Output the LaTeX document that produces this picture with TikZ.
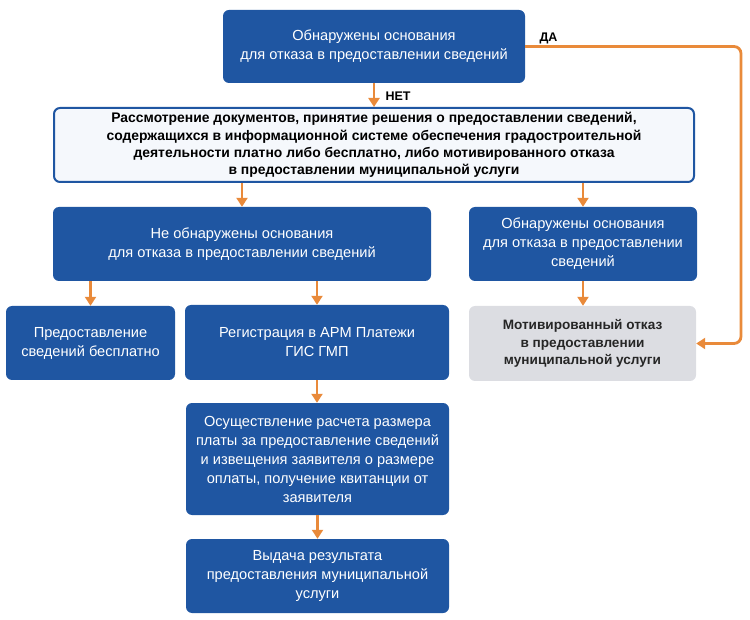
\documentclass[tikz,border=0pt]{standalone}
\usepackage{fontspec}
\setmainfont{Liberation Sans}
\usetikzlibrary{arrows.meta}

\definecolor{boxblue}{HTML}{1F56A2}
\definecolor{arrorange}{HTML}{E98A3A}
\definecolor{boxgray}{HTML}{DCDDE2}
\definecolor{paleblue}{HTML}{F5F8FC}

\tikzset{
  stepbase/.style={rounded corners=6pt, align=center, inner sep=0pt,
    font=\fontsize{14.6}{19}\selectfont},
  bluebox/.style={stepbase, fill=boxblue, text=white},
  graybox/.style={stepbase, fill=boxgray, text=black!85, font=\bfseries\fontsize{13.6}{17.8}\selectfont},
  mainbox/.style={stepbase, draw=boxblue, line width=2pt, fill=paleblue, text=black,
    font=\bfseries\fontsize{13.9}{17.4}\selectfont},
  arr/.style={draw=arrorange, line width=2.8pt, -{Triangle[width=11pt,length=9pt]}},
  answer/.style={font=\bfseries\fontsize{12.5}{14}\selectfont, text=black}
}

\begin{document}
\begin{tikzpicture}[x=1pt,y=-1pt]
\useasboundingbox (0,0) rectangle (750,620);

\node[bluebox, minimum width=302, minimum height=73] (found) at (374,46.5)
  {Обнаружены основания\\для отказа в предоставлении сведений};
\node[mainbox, minimum width=640, minimum height=74] (review) at (374,145)
  {Рассмотрение документов, принятие решения о предоставлении сведений,\\
   содержащихся в информационной системе обеспечения градостроительной\\
   деятельности платно либо бесплатно, либо мотивированного отказа\\
   в предоставлении муниципальной услуги};
\node[bluebox, minimum width=378, minimum height=74] (notfound) at (242,244)
  {Не обнаружены основания\\для отказа в предоставлении сведений};
\node[bluebox, minimum width=228, minimum height=74] (found2) at (583,244)
  {Обнаружены основания\\для отказа в предоставлении\\сведений};
\node[bluebox, minimum width=169, minimum height=74] (free) at (90.5,343)
  {Предоставление\\сведений бесплатно};
\node[bluebox, minimum width=264, minimum height=75] (register) at (317,342.5)
  {Регистрация в АРМ Платежи\\ГИС ГМП};
\node[graybox, minimum width=227, minimum height=75] (refusal) at (582.5,343.5)
  {Мотивированный отказ\\в предоставлении\\муниципальной услуги};
\node[bluebox, minimum width=263, minimum height=112] (calc) at (317.5,459)
  {Осуществление расчета размера\\платы за предоставление сведений\\и извещения заявителя о размере\\оплаты, получение квитанции от\\заявителя};
\node[bluebox, minimum width=263, minimum height=74] (result) at (317.5,576)
  {Выдача результата\\предоставления муниципальной\\услуги};

\coordinate (daturn) at (741,0);

\draw[arr] (found.south) -- (review.north);
\node[answer, anchor=west] (net) at (382,96) {НЕТ};
\draw[arr, rounded corners=7pt] (found.east) -- (found.east -| daturn) -- (refusal.east -| daturn) -- (refusal.east);
\node[answer, anchor=west] (da) at (536,38) {ДА};

\draw[arr] (notfound.north |- review.south) -- (notfound.north);
\draw[arr] (found2.north |- review.south) -- (found2.north);
\draw[arr] (free.north |- notfound.south) -- (free.north);
\draw[arr] (register.north |- notfound.south) -- (register.north);
\draw[arr] (found2.south) -- (found2.south |- refusal.north);
\draw[arr] (register.south) -- (register.south |- calc.north);
\draw[arr] (calc.south) -- (result.north);
\end{tikzpicture}
\end{document}
